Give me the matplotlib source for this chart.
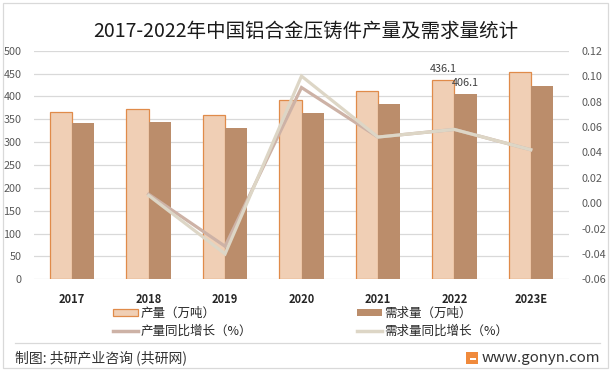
import matplotlib
matplotlib.use("Agg")
import matplotlib.pyplot as plt
import numpy as np
from matplotlib.patches import Rectangle, Patch
from matplotlib.lines import Line2D

plt.rcParams['font.family'] = ['Noto Sans CJK SC', 'DejaVu Sans']

categories = ["2017", "2018", "2019", "2020", "2021", "2022", "2023E"]
production = [367, 372, 359, 392, 411, 436.1, 453]
demand = [342, 344, 331, 364, 384, 406.1, 423]
prod_growth = [None, 0.007, -0.034, 0.091, 0.052, 0.058, 0.042]
demand_growth = [None, 0.006, -0.040, 0.100, 0.052, 0.058, 0.042]
left_ticks = [0, 50, 100, 150, 200, 250, 300, 350, 400, 450, 500]
right_ticks = [-0.06, -0.04, -0.02, 0.00, 0.02, 0.04, 0.06, 0.08, 0.10, 0.12]
labelled_years = ["2022"]

title = "2017-2022年中国铝合金压铸件产量及需求量统计"
legend_labels = ["产量（万吨）", "需求量（万吨）", "产量同比增长（%）", "需求量同比增长（%）"]
footer_left = "制图: 共研产业咨询 (共研网)"
footer_right = "www.gonyn.com"

C_PROD = "#F0CFB5"
C_PROD_EDGE = "#E08B4A"
C_DEM = "#BB8D6B"
C_PG = "#CDB2A6"
C_DG = "#DDD6C6"
C_TICK = "#595959"

W, H = 612, 370
fig = plt.figure(figsize=(W / 100, H / 100), dpi=100)
fig.patch.set_facecolor("white")

ax = fig.add_axes([34 / W, 1 - 279.3 / H, (569 - 34) / W, (279.3 - 50.7) / H])
x = np.arange(len(categories))
bw = 0.29
ax.bar(x - bw / 2, production, bw, color=C_PROD, edgecolor=C_PROD_EDGE, linewidth=0.9, zorder=2)
ax.bar(x + bw / 2, demand, bw, color=C_DEM, edgecolor="none", zorder=2)
ax.set_ylim(0, 500)
ax.set_xlim(-0.5, len(categories) - 0.5)
ax.set_yticks(left_ticks)
ax.yaxis.grid(True, color="#D9D9D9", linewidth=0.9, zorder=0)
ax.set_axisbelow(True)
ax.set_xticks(x)
ax.set_xticklabels(categories, fontweight="bold", fontsize=8, color="#262626")
ax.tick_params(axis="x", length=0, pad=10)
ax.tick_params(axis="y", length=0, pad=9, labelsize=7.8, labelcolor=C_TICK)
for s in ax.spines.values():
    s.set_visible(False)

for i, c in enumerate(categories):
    if c in labelled_years:
        ax.text(x[i] - bw / 2, production[i] + 13, f"{production[i]:.1f}", ha="center", va="bottom",
                fontsize=7.8, color="#404040")
        ax.text(x[i] + bw / 2, demand[i] + 12, f"{demand[i]:.1f}", ha="center", va="bottom",
                fontsize=7.8, color="#404040")

ax2 = ax.twinx()
ax2.set_ylim(-0.06, 0.12)
ax2.set_yticks(right_ticks)
ax2.set_yticklabels([f"{t:.2f}" for t in right_ticks])
ax2.tick_params(axis="y", length=0, pad=9, labelsize=7.8, labelcolor=C_TICK)
for s in ax2.spines.values():
    s.set_visible(False)
xs = [xi for xi, v in zip(x, prod_growth) if v is not None]
ax2.plot(xs, [v for v in prod_growth if v is not None], color=C_PG, linewidth=2.3, solid_joinstyle="miter")
xs2 = [xi for xi, v in zip(x, demand_growth) if v is not None]
ax2.plot(xs2, [v for v in demand_growth if v is not None], color=C_DG, linewidth=2.3, solid_joinstyle="miter")

fig.text(0.5, 1 - 31 / H, title, ha="center", va="center", fontsize=14, color="#1a1a1a")

h_prod = Patch(facecolor=C_PROD, edgecolor=C_PROD_EDGE, linewidth=0.9)
h_dem = Patch(facecolor=C_DEM, edgecolor="none")
h_pg = Line2D([], [], color=C_PG, linewidth=2.5)
h_dg = Line2D([], [], color=C_DG, linewidth=2.5)
leg_kw = dict(frameon=False, fontsize=9, handlelength=2.0, handleheight=0.5, handletextpad=0.2,
              labelspacing=0.4, borderpad=0, borderaxespad=0, loc="center left",
              labelcolor="#262626")
l1 = fig.legend([h_prod, h_pg], legend_labels[0::2], bbox_to_anchor=(113 / W, 1 - 322 / H), **leg_kw)
l2 = fig.legend([h_dem, h_dg], legend_labels[1::2], bbox_to_anchor=(357 / W, 1 - 322 / H), **leg_kw)

fig.add_artist(Line2D([15 / W, 600 / W], [1 - 342.5 / H] * 2, color="#D9D9D9", linewidth=0.9))
fig.add_artist(Rectangle((3 / W, 2 / H), (W - 7) / W, (H - 5) / H, fill=False, edgecolor="#D9D9D9",
                         linewidth=0.9, transform=fig.transFigure))
fig.text(15 / W, 1 - 358 / H, footer_left, ha="left", va="center", fontsize=10, color="#333333")
fig.add_artist(Rectangle((466 / W, 1 - 364 / H), 12 / W, 12 / H, facecolor="#F08A3C", edgecolor="none",
                         transform=fig.transFigure))
fig.add_artist(Rectangle((470 / W, 1 - 360 / H), 6 / W, 2 / H, facecolor="white", edgecolor="none",
                         transform=fig.transFigure))
fig.text(600 / W, 1 - 358 / H, footer_right, ha="right", va="center", fontsize=10.8, color="#333333")

fig.savefig("out.png", dpi=100, facecolor="white")
